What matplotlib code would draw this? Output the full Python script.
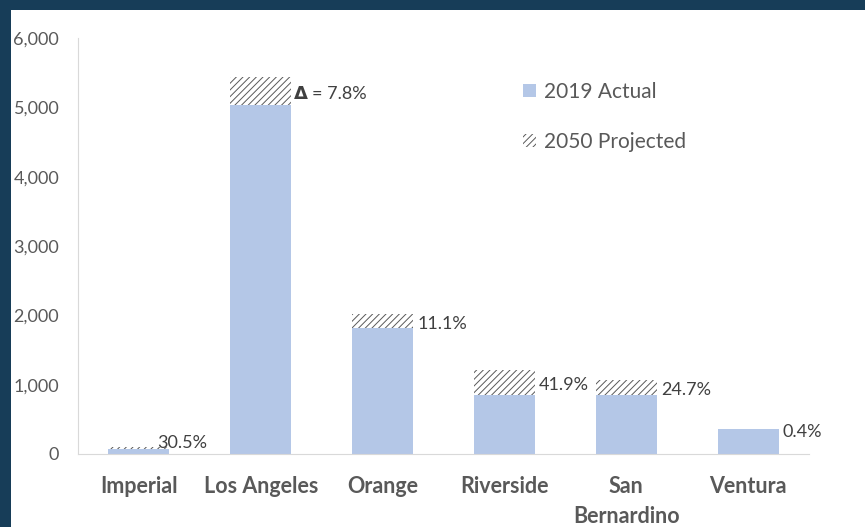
import matplotlib.pyplot as plt
import matplotlib.patches as mpatches
import numpy as np

counties = ["Imperial", "Los Angeles", "Orange", "Riverside", "San\nBernardino", "Ventura"]
actual_2019 = [75, 5040, 1817, 851, 855, 360]
projected_2050 = [95, 5435, 2018, 1207, 1066, 361]
change_labels = ["30.5%", "7.8%", "11.1%", "41.9%", "24.7%", "0.4%"]

blue = "#B4C7E7"
grey = "#595959"
navy = "#173D58"

plt.rcParams["font.family"] = ["Lato", "DejaVu Sans"]
plt.rcParams["hatch.color"] = "#595959"
plt.rcParams["hatch.linewidth"] = 0.7

fig = plt.figure(figsize=(8.65, 5.27), dpi=100, facecolor=navy)
fig.patches.append(mpatches.Rectangle((11 / 865, 0), 1, 1 - 10 / 527,
                                      transform=fig.transFigure, facecolor="white",
                                      edgecolor="none", zorder=-10))
ax = fig.add_axes([78 / 865, 1 - 454 / 527, (809 - 78) / 865, (454 - 38) / 527])
ax.set_zorder(5)
ax.set_facecolor("white")

x = np.arange(len(counties))
width = 0.5
extra = np.array(projected_2050) - np.array(actual_2019)

ax.bar(x, actual_2019, width, color=blue, label="2019 Actual", zorder=2)
ax.bar(x, extra, width, bottom=actual_2019, color="white", edgecolor=grey,
       linewidth=0, hatch="/////", label="2050 Projected", zorder=2)

# change labels beside the hatched part
for i in range(len(counties)):
    mid = (actual_2019[i] + projected_2050[i]) / 2
    if i == 0:
        ax.annotate(change_labels[i], (x[i] + width / 2, mid), xytext=(-9, 4),
                    textcoords="offset points", ha="left", va="center",
                    fontsize=13, color="#404040")
    elif i == 1:
        ax.annotate("Δ", (x[i] + width / 2, mid), xytext=(2, -2),
                    textcoords="offset points", ha="left", va="center",
                    fontsize=13, fontweight="bold", color="#404040",
                    family="DejaVu Sans")
        ax.annotate("= " + change_labels[i], (x[i] + width / 2, mid), xytext=(15, -2),
                    textcoords="offset points", ha="left", va="center",
                    fontsize=13, color="#404040")
    else:
        ax.annotate(change_labels[i], (x[i] + width / 2, mid), xytext=(3, -2),
                    textcoords="offset points", ha="left", va="center",
                    fontsize=13, color="#404040")

ax.set_xlim(-0.5, len(counties) - 0.5)
ax.set_ylim(0, 6000)
ax.set_yticks(range(0, 6001, 1000))
ax.set_yticklabels([f"{v:,}" for v in range(0, 6001, 1000)])
ax.set_xticks(x)
ax.set_xticklabels(counties, fontweight="bold", fontsize=15.5, color=grey,
                   linespacing=1.5)
ax.tick_params(axis="x", length=0, pad=16)
ax.tick_params(axis="y", length=0, pad=13.5, labelsize=13, labelcolor=grey)
for s in ["top", "right"]:
    ax.spines[s].set_visible(False)
ax.spines["left"].set_color("#D9D9D9")
ax.spines["bottom"].set_color("#D9D9D9")

ax.legend(loc="upper left", bbox_to_anchor=(0.609, 0.895), frameon=False,
          fontsize=15, labelcolor=grey, handlelength=0.6, handleheight=0.6,
          handletextpad=0.4, labelspacing=1.45, borderpad=0, borderaxespad=0)

fig.savefig("out.png", dpi=100, facecolor=navy)
